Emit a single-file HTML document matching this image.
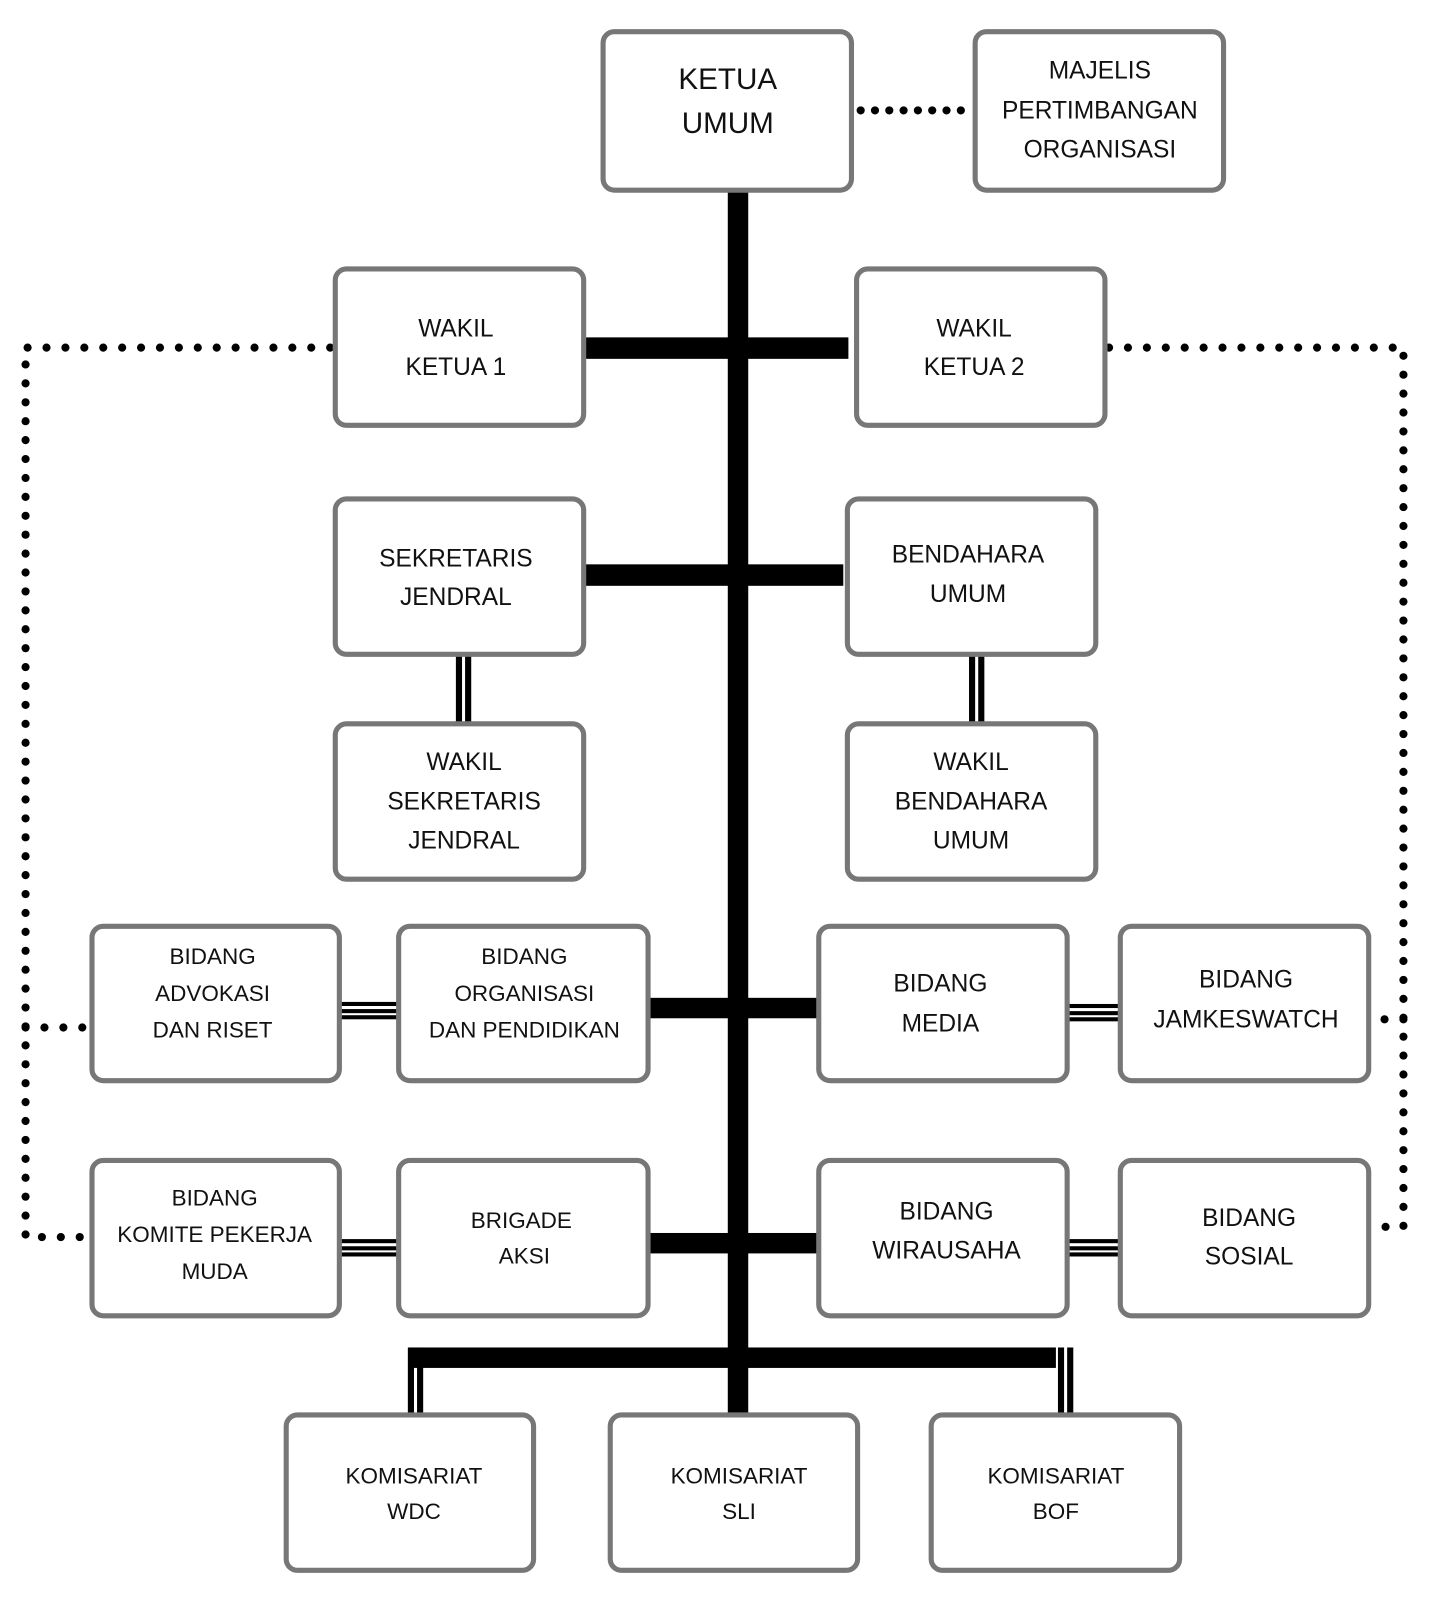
<!DOCTYPE html>
<html><head><style>html,body{margin:0;padding:0;background:#fff}svg{display:block}</style></head>
<body>
<svg width="1429" height="1600" viewBox="0 0 1398 1565" preserveAspectRatio="none" xmlns="http://www.w3.org/2000/svg" font-family="Liberation Sans, sans-serif" text-anchor="middle">
<g fill="none" stroke="#000" stroke-linecap="round">
<path d="M842 108 H950" stroke-width="8" stroke-dasharray="0 14"/>
<path d="M323 340 H25 V1210 H82 M25 1005 H85" stroke-width="8" stroke-dasharray="0 18.5"/>
<path d="M1085 340 H1373 V1200 H1343 M1373 997 H1345" stroke-width="8" stroke-dasharray="0 18.5"/>
</g>
<g fill="#000">
<rect x="712" y="185" width="20" height="1200"/>
<rect x="572" y="330" width="258" height="21"/>
<rect x="567" y="552" width="258" height="21"/>
<rect x="628" y="976" width="175" height="20"/>
<rect x="630" y="1206" width="176" height="20"/>
<rect x="400" y="1318" width="633" height="20"/>
<rect x="399" y="1318" width="6" height="69"/><rect x="408" y="1318" width="6" height="69"/>
<rect x="1035" y="1318" width="6" height="67"/><rect x="1044" y="1318" width="6" height="67"/>
<rect x="446" y="636" width="6" height="72"/><rect x="455" y="636" width="6" height="72"/>
<rect x="948" y="636" width="6" height="70"/><rect x="957" y="636" width="6" height="70"/>
<rect x="330" y="980" width="62" height="4"/><rect x="330" y="987" width="62" height="4"/><rect x="330" y="993" width="62" height="4"/>
<rect x="1042" y="982" width="56" height="4"/><rect x="1042" y="989" width="56" height="4"/><rect x="1042" y="995" width="56" height="4"/>
<rect x="332" y="1212" width="58" height="4"/><rect x="332" y="1219" width="58" height="4"/><rect x="332" y="1225" width="58" height="4"/>
<rect x="1042" y="1212" width="58" height="4"/><rect x="1042" y="1219" width="58" height="4"/><rect x="1042" y="1225" width="58" height="4"/>
</g>
<g fill="#fff" stroke="#777" stroke-width="5">
<rect x="590" y="31" width="243" height="155" rx="11"/>
<rect x="954" y="31" width="243" height="155" rx="11"/>
<rect x="328" y="263" width="243" height="153" rx="11"/>
<rect x="838" y="263" width="243" height="153" rx="11"/>
<rect x="328" y="488" width="243" height="152" rx="11"/>
<rect x="829" y="488" width="243" height="152" rx="11"/>
<rect x="328" y="708" width="243" height="152" rx="11"/>
<rect x="829" y="708" width="243" height="152" rx="11"/>
<rect x="90" y="906" width="242" height="151" rx="11"/>
<rect x="390" y="906" width="244" height="151" rx="11"/>
<rect x="801" y="906" width="243" height="151" rx="11"/>
<rect x="1096" y="906" width="243" height="151" rx="11"/>
<rect x="90" y="1135" width="242" height="152" rx="11"/>
<rect x="390" y="1135" width="244" height="152" rx="11"/>
<rect x="801" y="1135" width="243" height="152" rx="11"/>
<rect x="1096" y="1135" width="243" height="152" rx="11"/>
<rect x="280" y="1384" width="242" height="152" rx="11"/>
<rect x="597" y="1384" width="242" height="152" rx="11"/>
<rect x="911" y="1384" width="243" height="152" rx="11"/>
</g>
<g fill="#111" font-size="24">
<text x="712" y="87" font-size="29">KETUA</text><text x="712" y="130" font-size="29">UMUM</text>
<text x="1076" y="77">MAJELIS</text><text x="1076" y="116">PERTIMBANGAN</text><text x="1076" y="154">ORGANISASI</text>
<text x="446" y="329">WAKIL</text><text x="446" y="367">KETUA 1</text>
<text x="953" y="329">WAKIL</text><text x="953" y="367">KETUA 2</text>
<text x="446" y="554">SEKRETARIS</text><text x="446" y="592">JENDRAL</text>
<text x="947" y="550">BENDAHARA</text><text x="947" y="589">UMUM</text>
<text x="454" y="753">WAKIL</text><text x="454" y="792">SEKRETARIS</text><text x="454" y="830">JENDRAL</text>
<text x="950" y="753">WAKIL</text><text x="950" y="792">BENDAHARA</text><text x="950" y="830">UMUM</text>
<g font-size="22">
<text x="208" y="943">BIDANG</text><text x="208" y="979">ADVOKASI</text><text x="208" y="1015">DAN RISET</text>
<text x="513" y="943">BIDANG</text><text x="513" y="979">ORGANISASI</text><text x="513" y="1015">DAN PENDIDIKAN</text>
<text x="210" y="1179">BIDANG</text><text x="210" y="1215">KOMITE PEKERJA</text><text x="210" y="1251">MUDA</text>
<text x="510" y="1201">BRIGADE</text><text x="513" y="1236">AKSI</text>
<text x="405" y="1451">KOMISARIAT</text><text x="405" y="1486">WDC</text>
<text x="723" y="1451">KOMISARIAT</text><text x="723" y="1486">SLI</text>
<text x="1033" y="1451">KOMISARIAT</text><text x="1033" y="1486">BOF</text>
</g>
<text x="920" y="970">BIDANG</text><text x="920" y="1009">MEDIA</text>
<text x="1219" y="966">BIDANG</text><text x="1219" y="1005">JAMKESWATCH</text>
<text x="926" y="1193">BIDANG</text><text x="926" y="1231">WIRAUSAHA</text>
<text x="1222" y="1199">BIDANG</text><text x="1222" y="1237">SOSIAL</text>
</g>
</svg>
</body></html>
